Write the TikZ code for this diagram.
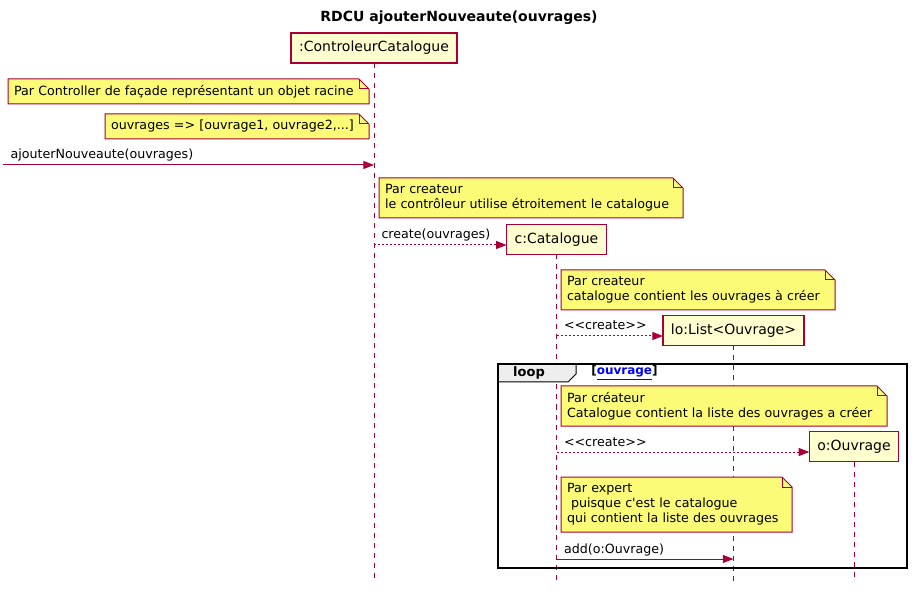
\documentclass[tikz,border=0pt]{standalone}
\usepackage{fontspec}
\setmainfont{DejaVu Sans}
\usetikzlibrary{arrows.meta}
\usetikzlibrary{backgrounds}
\definecolor{umlred}{HTML}{A80036}
\definecolor{umlbox}{HTML}{FEFECE}
\definecolor{umlnote}{HTML}{FBFB77}
\definecolor{umltab}{HTML}{EEEEEE}
\definecolor{umllink}{HTML}{0000FF}
\tikzset{
>={Triangle[length=8pt,width=6pt]}, % filled uml tips
uml font/.style={font=\fontsize{9.5}{11.25}\selectfont},
my title/.style={font=\bfseries\fontsize{10.5}{12}\selectfont},
my participant/.style={draw=umlred,fill=umlbox,line width=1.125pt,minimum height=22.5pt,inner xsep=6pt,inner ysep=0pt,outer sep=0pt,font=\fontsize{10.5}{12}\selectfont},
my lifeline/.style={draw=umlred,line width=0.75pt,dash pattern=on 3.75pt off 3.75pt},
my note/.style 2 args={anchor=north west,align=left,text width=#1,minimum height=#2,inner xsep=4.5pt,inner ysep=0pt,outer sep=0pt,uml font},
my note shape/.style={draw=umlred,fill=umlnote,line width=0.75pt},
my msg/.style={->,draw=umlred,line width=0.75pt},
my create/.style={my msg,dash pattern=on 1.5pt off 1.5pt},
my label/.style={pos=0,anchor=base west,inner sep=0pt,xshift=5.25pt,yshift=4.5pt,uml font},
my frame/.style={draw=black,line width=1.5pt,inner sep=0pt,outer sep=0pt},
my tab/.style={draw=black,fill=umltab,line width=0.75pt},
}
\begin{document}
\begin{tikzpicture}[x=0.75pt,y=-0.75pt]
\useasboundingbox (0,0) rectangle (918,595);
\node[my title] (title) at (459,18) {RDCU ajouterNouveaute(ouvrages)};

\node[my participant] (cc)  at (374,48)      {:ControleurCatalogue};
\node[my participant] (cat) at (556.5,239.5) {c:Catalogue};
\node[my participant] (lo)  at (733.5,330.5) {lo:List<Ouvrage>};
\node[my participant] (o)   at (854,446.5)   {o:Ouvrage};
\coordinate (bot) at (0,581);

\begin{scope}[on background layer]
\foreach \p in {cc,cat,lo,o}
  \draw[my lifeline] (\p.south) -- (\p.south |- bot);
\end{scope}

\node[my note={261.75pt}{18.75pt}] (n1) at (8,79)   {Par Controller de façade représentant un objet racine};
\node[my note={189pt}{18.75pt}]    (n2) at (105,114) {ouvrages => [ouvrage1, ouvrage2,...]};
\node[my note={219pt}{30pt}]       (n3) at (379,178) {Par createur\\le contrôleur utilise étroitement le catalogue};
\node[my note={196.5pt}{30pt}]     (n4) at (561,270) {Par createur\\catalogue contient les ouvrages à créer};
\node[my note={235.5pt}{30pt}]     (n5) at (561,386) {Par créateur\\Catalogue contient la liste des ouvrages a créer};
\node[my note={164.25pt}{41.25pt}] (n6) at (561,477) {Par expert\\\hspace*{3pt}puisque c\textquotesingle est le catalogue\\qui contient la liste des ouvrages};

\begin{scope}[on background layer]
\foreach \n in {n1,n2,n3,n4,n5,n6}{
  \draw[my note shape] (\n.north west) -- ([xshift=-7.5pt]\n.north east) -- ([yshift=-7.5pt]\n.north east)
    -- (\n.south east) -- (\n.south west) -- cycle;
  \draw[my note shape,fill=none] ([xshift=-7.5pt]\n.north east) |- ([yshift=-7.5pt]\n.north east);
}
\end{scope}

\coordinate (m1) at (3,165);
\draw[my msg] (m1) -- node[my label] {ajouterNouveaute(ouvrages)} (m1 -| cc);
\coordinate (m2) at (0,245);
\draw[my create] (m2 -| cc) -- node[my label] {create(ouvrages)} (m2 -| cat.west);
\coordinate (m3) at (0,336);
\draw[my create] (m3 -| cat) -- node[my label] {<{}<create>{}>} (m3 -| lo.west);

\coordinate (fr) at (498,364);
\draw[my tab] (fr) -- ++(78,0) -- ++(0,10) -- ++(-8,8) -- ++(-70,0) -- cycle;
\node[my frame,anchor=north west,minimum width=306.75pt,minimum height=153pt] (loopfr) at (fr) {};
\node[font=\bfseries\fontsize{9.75}{11.25}\selectfont] (looplbl) at (529,373) {loop};
\node[anchor=west,inner sep=0pt,font=\bfseries\fontsize{9}{10}\selectfont] (guard) at (591,373)
  {[\textcolor{umllink}{\underline{ouvrage}}]};

\coordinate (m4) at (0,452);
\draw[my create] (m4 -| cat) -- node[my label] {<{}<create>{}>} (m4 -| o.west);
\coordinate (m5) at (0,559);
\draw[my msg] (m5 -| cat) -- node[my label] {add(o:Ouvrage)} (m5 -| lo);
\end{tikzpicture}
\end{document}
